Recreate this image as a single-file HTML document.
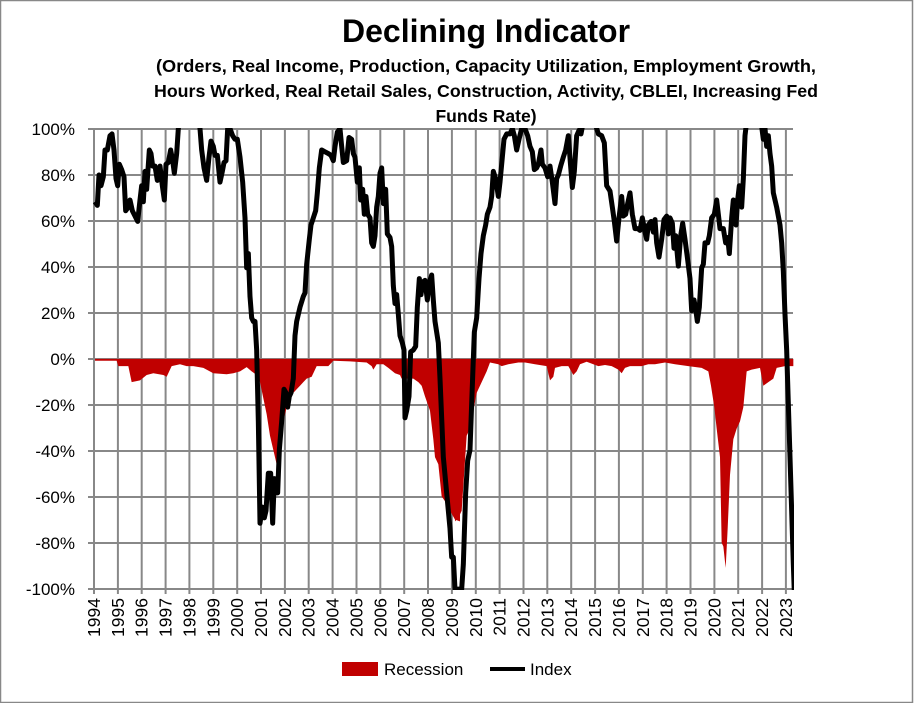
<!DOCTYPE html>
<html><head><meta charset="utf-8"><style>
body{margin:0;background:#fff}
svg{display:block}
text{font-family:"Liberation Sans",sans-serif}
</style></head><body>
<svg width="915" height="703" viewBox="0 0 915 703" xmlns="http://www.w3.org/2000/svg">
<rect x="0.5" y="0.5" width="912" height="702" fill="#fff" stroke="#888" stroke-width="1.5"/>
<text x="486" y="42" font-size="32" font-weight="bold" text-anchor="middle">Declining Indicator</text>
<g font-size="17.5" font-weight="bold" text-anchor="middle">
<text x="486" y="72" textLength="660" lengthAdjust="spacingAndGlyphs">(Orders, Real Income, Production, Capacity Utilization, Employment Growth,</text>
<text x="486" y="97" textLength="664" lengthAdjust="spacingAndGlyphs">Hours Worked, Real Retail Sales, Construction,  Activity, CBLEI, Increasing Fed</text>
<text x="486" y="122">Funds Rate)</text>
</g>
<g stroke="#888" stroke-width="2">
<line x1="88" y1="129" x2="793" y2="129"/><line x1="88" y1="175" x2="793" y2="175"/><line x1="88" y1="221" x2="793" y2="221"/><line x1="88" y1="267" x2="793" y2="267"/><line x1="88" y1="313" x2="793" y2="313"/><line x1="88" y1="359" x2="793" y2="359"/><line x1="88" y1="405" x2="793" y2="405"/><line x1="88" y1="451" x2="793" y2="451"/><line x1="88" y1="497" x2="793" y2="497"/><line x1="88" y1="543" x2="793" y2="543"/><line x1="88" y1="589" x2="793" y2="589"/>
</g>
<g stroke="#888" stroke-width="2">
<line x1="94" y1="129" x2="94" y2="594"/><line x1="117.9" y1="129" x2="117.9" y2="594"/><line x1="141.7" y1="129" x2="141.7" y2="594"/><line x1="165.6" y1="129" x2="165.6" y2="594"/><line x1="189.4" y1="129" x2="189.4" y2="594"/><line x1="213.3" y1="129" x2="213.3" y2="594"/><line x1="237.2" y1="129" x2="237.2" y2="594"/><line x1="261" y1="129" x2="261" y2="594"/><line x1="284.9" y1="129" x2="284.9" y2="594"/><line x1="308.7" y1="129" x2="308.7" y2="594"/><line x1="332.6" y1="129" x2="332.6" y2="594"/><line x1="356.5" y1="129" x2="356.5" y2="594"/><line x1="380.3" y1="129" x2="380.3" y2="594"/><line x1="404.2" y1="129" x2="404.2" y2="594"/><line x1="428" y1="129" x2="428" y2="594"/><line x1="451.9" y1="129" x2="451.9" y2="594"/><line x1="475.8" y1="129" x2="475.8" y2="594"/><line x1="499.6" y1="129" x2="499.6" y2="594"/><line x1="523.5" y1="129" x2="523.5" y2="594"/><line x1="547.3" y1="129" x2="547.3" y2="594"/><line x1="571.2" y1="129" x2="571.2" y2="594"/><line x1="595.1" y1="129" x2="595.1" y2="594"/><line x1="618.9" y1="129" x2="618.9" y2="594"/><line x1="642.8" y1="129" x2="642.8" y2="594"/><line x1="666.6" y1="129" x2="666.6" y2="594"/><line x1="690.5" y1="129" x2="690.5" y2="594"/><line x1="714.4" y1="129" x2="714.4" y2="594"/><line x1="738.2" y1="129" x2="738.2" y2="594"/><line x1="762.1" y1="129" x2="762.1" y2="594"/><line x1="785.9" y1="129" x2="785.9" y2="594"/>
</g>
<defs><clipPath id="c"><rect x="88" y="128" width="706" height="462"/></clipPath></defs>
<g clip-path="url(#c)">
<g transform="matrix(0.33333,0,0,0.35714,0,100)">
<polygon fill="#c00000" points="285,725 285,730 350,730 355,745 385,745 395,790 420,785 440,770 460,765 490,770 500,775 515,745 540,740 560,745 580,745 610,750 640,765 680,768 700,765 720,760 740,748 755,760 770,770 780,790 800,880 810,940 820,980 830,1020 840,980 850,900 860,860 870,830 880,820 890,810 900,800 910,790 920,780 935,775 950,745 965,745 985,745 1000,730 1050,732 1100,735 1115,745 1120,755 1130,740 1150,740 1165,750 1185,765 1200,770 1205,780 1215,780 1240,780 1255,790 1265,800 1275,830 1290,870 1300,950 1305,1000 1315,1020 1325,1110 1340,1130 1350,1150 1365,1175 1380,1180 1380,725"/>
<polyline fill="none" stroke="#000" stroke-width="5" vector-effect="non-scaling-stroke" stroke-linejoin="round" points="285,285 292,295 297,210 303,240 310,215 315,140 322,140 330,100 336,95 342,140 348,220 353,240 358,180 365,195 372,215 377,310 385,300 390,280 397,310 405,325 413,340 420,280 425,240 430,285 435,200 440,250 448,140 453,150 458,185 465,185 472,225 480,185 487,240 493,280 498,180 505,175 512,140 518,170 523,205 530,150 535,80 545,20 590,20 600,80 605,140 612,190 620,225 627,160 633,115 640,130 645,155 652,155 660,230 667,200 672,175 678,170 683,80 690,80 698,100 705,110 712,110 720,160 728,230 735,330 740,470 745,430 750,550 755,610 760,620 765,620 770,700 775,900 780,1185 787,1140 793,1170 798,1150 805,1045 812,1045 818,1185 823,1060 828,1100 833,1100 838,980 845,900 852,810 858,820 863,860 868,830 873,820 880,780 885,660 890,620 900,580 910,550 915,540 920,460 928,390 933,350 940,330 947,310 952,260 958,190 965,140 975,145 985,150 993,155 1000,170 1005,130 1012,90 1020,80 1025,130 1030,175 1040,170 1047,105 1055,110 1060,150 1065,160 1072,230 1078,190 1082,280 1088,250 1093,320 1098,270 1103,320 1110,330 1115,400 1120,410 1125,380 1130,300 1135,270 1140,205 1145,190 1150,290 1157,250 1162,375 1170,385 1175,410 1180,520 1185,570 1190,545 1195,600 1200,660 1207,680 1212,700 1215,890 1220,870 1227,830 1232,705 1240,700 1247,690 1252,580 1258,500 1263,545 1268,510 1275,505 1282,560 1288,510 1295,490 1300,560 1305,620 1315,680 1320,780 1330,1000 1340,1100 1350,1200 1355,1280 1360,1280 1365,1370 1380,1370"/>
</g>
<g transform="matrix(0.33333,0,0,0.35714,455,100)">
<polygon fill="#c00000" points="0,725 0,1180 10,1170 20,1150 35,940 45,920 55,870 65,820 80,790 95,760 105,735 130,740 140,745 160,740 190,735 210,735 240,740 275,745 285,785 295,775 300,750 320,745 340,745 355,770 365,760 375,740 395,733 415,740 430,745 450,742 470,745 490,755 500,765 510,750 525,745 540,745 560,745 580,740 600,740 630,735 660,740 700,745 740,750 760,760 768,800 778,860 785,920 795,1000 800,1240 805,1250 812,1310 818,1200 825,1050 835,950 845,920 855,900 865,860 875,760 890,755 915,750 925,800 940,790 955,780 965,750 990,745 1015,745 1015,725"/>
<polyline fill="none" stroke="#000" stroke-width="5" vector-effect="non-scaling-stroke" stroke-linejoin="round" points="0,1370 20,1370 25,1300 32,1100 38,1010 45,980 50,850 58,650 65,610 72,500 78,430 85,380 92,350 97,320 105,300 110,270 115,200 122,220 130,270 135,230 140,180 147,110 155,95 165,95 172,80 178,100 185,140 192,110 200,80 210,80 218,100 225,130 232,145 238,195 245,190 250,180 258,140 262,180 270,190 278,215 285,185 292,230 300,290 305,220 310,210 317,185 325,160 332,140 340,100 346,175 352,245 358,200 365,100 372,85 378,95 385,60 420,60 425,80 430,95 440,100 448,120 455,240 465,255 472,300 478,340 485,395 492,330 500,270 505,325 512,320 518,290 525,260 532,320 540,360 548,360 555,365 562,330 570,370 575,390 580,350 588,340 595,370 600,335 605,400 612,440 620,390 627,335 635,325 640,375 645,330 652,345 657,415 662,380 670,465 677,380 683,345 690,390 697,440 705,500 710,590 717,560 722,585 727,620 733,580 740,470 745,460 750,400 758,400 763,380 770,330 778,320 785,280 790,320 795,360 805,360 812,400 818,385 823,430 830,330 835,280 843,350 848,280 853,240 860,300 865,220 870,100 875,60 918,60 925,110 930,80 935,130 940,100 945,150 950,185 955,260 965,300 975,350 980,400 985,480 990,600 995,700 1000,850 1005,1000 1010,1150 1015,1300 1018,1380"/>
</g>
</g>
<g font-size="17" text-anchor="end">
<text x="75" y="135">100%</text><text x="75" y="181">80%</text><text x="75" y="227">60%</text><text x="75" y="273">40%</text><text x="75" y="319">20%</text><text x="75" y="365">0%</text><text x="75" y="411">-20%</text><text x="75" y="457">-40%</text><text x="75" y="503">-60%</text><text x="75" y="549">-80%</text><text x="75" y="595">-100%</text>
</g>
<g font-size="17.5" text-anchor="end">
<text transform="translate(100,598) rotate(-90)">1994</text><text transform="translate(123.9,598) rotate(-90)">1995</text><text transform="translate(147.7,598) rotate(-90)">1996</text><text transform="translate(171.6,598) rotate(-90)">1997</text><text transform="translate(195.4,598) rotate(-90)">1998</text><text transform="translate(219.3,598) rotate(-90)">1999</text><text transform="translate(243.2,598) rotate(-90)">2000</text><text transform="translate(267,598) rotate(-90)">2001</text><text transform="translate(290.9,598) rotate(-90)">2002</text><text transform="translate(314.7,598) rotate(-90)">2003</text><text transform="translate(338.6,598) rotate(-90)">2004</text><text transform="translate(362.5,598) rotate(-90)">2005</text><text transform="translate(386.3,598) rotate(-90)">2006</text><text transform="translate(410.2,598) rotate(-90)">2007</text><text transform="translate(434,598) rotate(-90)">2008</text><text transform="translate(457.9,598) rotate(-90)">2009</text><text transform="translate(481.8,598) rotate(-90)">2010</text><text transform="translate(505.6,598) rotate(-90)">2011</text><text transform="translate(529.5,598) rotate(-90)">2012</text><text transform="translate(553.3,598) rotate(-90)">2013</text><text transform="translate(577.2,598) rotate(-90)">2014</text><text transform="translate(601.1,598) rotate(-90)">2015</text><text transform="translate(624.9,598) rotate(-90)">2016</text><text transform="translate(648.8,598) rotate(-90)">2017</text><text transform="translate(672.6,598) rotate(-90)">2018</text><text transform="translate(696.5,598) rotate(-90)">2019</text><text transform="translate(720.4,598) rotate(-90)">2020</text><text transform="translate(744.2,598) rotate(-90)">2021</text><text transform="translate(768.1,598) rotate(-90)">2022</text><text transform="translate(791.9,598) rotate(-90)">2023</text>
</g>
<rect x="342" y="662" width="36" height="14" fill="#c00000"/>
<text x="384" y="675" font-size="17">Recession</text>
<line x1="490" y1="669" x2="525" y2="669" stroke="#000" stroke-width="4"/>
<text x="530" y="675" font-size="17">Index</text>
</svg>
</body></html>
